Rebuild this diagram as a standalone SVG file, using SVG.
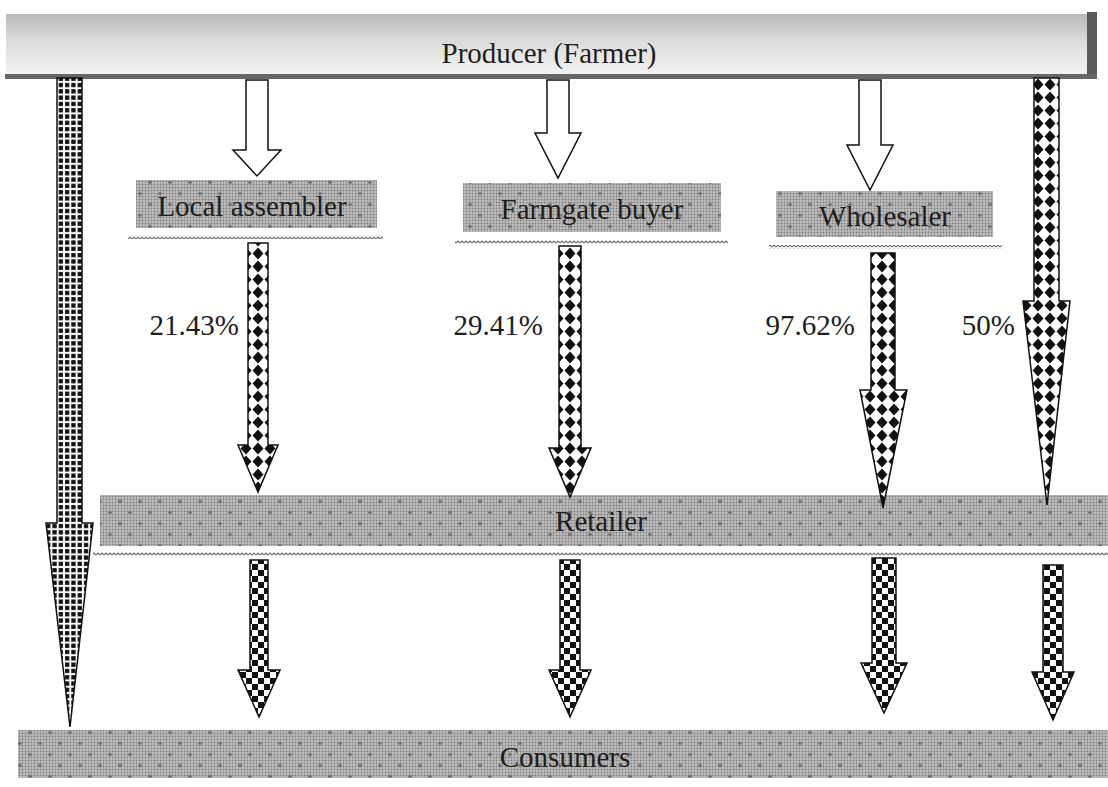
<svg xmlns="http://www.w3.org/2000/svg" width="1108" height="787" viewBox="0 0 1108 787">
<defs>
  <linearGradient id="prodGrad" x1="0" y1="0" x2="0" y2="1">
    <stop offset="0" stop-color="#b8b8b8"/>
    <stop offset="0.45" stop-color="#dcdcdc"/>
    <stop offset="1" stop-color="#f4f4f4"/>
  </linearGradient>
  <pattern id="ht" patternUnits="userSpaceOnUse" width="3" height="3">
    <rect width="3" height="3" fill="#bdbdbd"/>
    <circle cx="1.5" cy="1.5" r="0.95" fill="#808080"/>
  </pattern>
  <pattern id="plus" patternUnits="userSpaceOnUse" width="20" height="22">
    <path d="M10,4.5 v4 M8,6.5 h4" stroke="#6e6e6e" stroke-width="1.3"/>
    <path d="M0,15.5 v4 M-2,17.5 h4 M20,15.5 v4 M18,17.5 h4" stroke="#6e6e6e" stroke-width="1.3"/>
  </pattern>
  <pattern id="zig" patternUnits="userSpaceOnUse" width="4" height="4">
    <polyline points="0,3 2,1 4,3" fill="none" stroke="#6f6f6f" stroke-width="1.2"/>
  </pattern>
  <pattern id="grid" patternUnits="userSpaceOnUse" width="6.3" height="6.3" x="1" y="0">
    <rect width="6.3" height="6.3" fill="#ffffff"/>
    <rect x="1" y="1" width="4.3" height="4.3" fill="#111"/>
  </pattern>
  <pattern id="diam" patternUnits="userSpaceOnUse" width="12" height="13">
    <rect width="12" height="13" fill="#ffffff"/>
    <polygon points="6,0.5 11.5,6.5 6,12.5 0.5,6.5" fill="#111"/>
  </pattern>
  <pattern id="chk" patternUnits="userSpaceOnUse" width="12" height="12">
    <rect width="12" height="12" fill="#ffffff"/>
    <rect x="0" y="0" width="6" height="6" fill="#111"/>
    <rect x="6" y="6" width="6" height="6" fill="#111"/>
  </pattern>
  <style>
    .lbl { font-family: "Liberation Serif", "Times New Roman", serif; font-size: 29px; fill: #1e1e1e; text-anchor: middle; }
    .pct { font-family: "Liberation Serif", "Times New Roman", serif; font-size: 29px; fill: #1e1e1e; text-anchor: end; }
    .wavy { fill: url(#zig); }
    .arrow { stroke: #111; stroke-width: 1.5; stroke-linejoin: miter; }
    .hollow { fill: #ffffff; stroke: #111; stroke-width: 1.5; }
  </style>
</defs>
<rect width="1108" height="787" fill="#ffffff"/>

<g id="producer">
  <rect x="6" y="14" width="1084" height="62" fill="url(#prodGrad)"/>
  <rect x="1087" y="12" width="10" height="67" fill="#5a5a5a"/>
  <rect x="5" y="74" width="1092" height="5" fill="#666"/>
  <text class="lbl" x="549" y="63">Producer (Farmer)</text>
</g>

<g id="local-assembler">
  <rect x="136" y="180" width="241" height="48" fill="url(#ht)"/>
  <rect x="136" y="180" width="241" height="48" fill="url(#plus)"/>
  <rect class="wavy" x="128" y="235" width="255" height="4"/>
  <text class="lbl" x="252" y="216">Local assembler</text>
</g>

<g id="farmgate-buyer">
  <rect x="463" y="183" width="258" height="49" fill="url(#ht)"/>
  <rect x="463" y="183" width="258" height="49" fill="url(#plus)"/>
  <rect class="wavy" x="455" y="240" width="273" height="4"/>
  <text class="lbl" x="592" y="219">Farmgate buyer</text>
</g>

<g id="wholesaler">
  <rect x="776" y="191" width="217" height="46" fill="url(#ht)"/>
  <rect x="776" y="191" width="217" height="46" fill="url(#plus)"/>
  <rect class="wavy" x="769" y="245" width="233" height="4"/>
  <text class="lbl" x="885" y="226">Wholesaler</text>
</g>

<g id="retailer">
  <rect x="100" y="495" width="1008" height="51" fill="url(#ht)"/>
  <rect x="100" y="495" width="1008" height="51" fill="url(#plus)"/>
  <rect class="wavy" x="93" y="552" width="1015" height="4"/>
  <text class="lbl" x="601" y="531">Retailer</text>
</g>

<g id="consumers">
  <rect x="18" y="730" width="1090" height="48" fill="url(#ht)"/>
  <rect x="18" y="730" width="1090" height="48" fill="url(#plus)"/>
  <text class="lbl" x="565" y="767">Consumers</text>
</g>

<g id="connectors">
  <path class="arrow" fill="url(#grid)" d="M57,78 L57,523 L46,523 L70,727 L93,523 L82,523 L82,78 Z"/>
  <path class="arrow" fill="url(#diam)" d="M1034,78 L1034,301 L1023,301 L1047,505 L1070,301 L1059,301 L1059,78 Z"/>
  <path class="hollow" d="M246,80 L246,150 L233,150 L257,176 L281,150 L268,150 L268,80 Z"/>
  <path class="hollow" d="M547,80 L547,133 L535,133 L558,178 L581,133 L569,133 L569,80 Z"/>
  <path class="hollow" d="M859,80 L859,145 L847,145 L870,190 L893,145 L881,145 L881,80 Z"/>
  <path class="arrow" fill="url(#diam)" d="M248,243 L248,445 L238,445 L258,492 L278,445 L268,445 L268,243 Z"/>
  <path class="arrow" fill="url(#diam)" d="M559,246 L559,448 L549,448 L570,497 L591,448 L581,448 L581,246 Z"/>
  <path class="arrow" fill="url(#diam)" d="M871,253 L871,390 L860,390 L883,508 L907,390 L895,390 L895,253 Z"/>
  <path class="arrow" fill="url(#chk)" d="M250,560 L250,670 L238,670 L259,717 L280,670 L268,670 L268,560 Z"/>
  <path class="arrow" fill="url(#chk)" d="M560,560 L560,670 L549,670 L570,717 L591,670 L580,670 L580,560 Z"/>
  <path class="arrow" fill="url(#chk)" d="M872,558 L872,663 L861,663 L884,713 L907,663 L896,663 L896,558 Z"/>
  <path class="arrow" fill="url(#chk)" d="M1043,565 L1043,672 L1032,672 L1053,720 L1074,672 L1063,672 L1063,565 Z"/>
</g>

<g id="labels">
  <text class="pct" x="239" y="335">21.43%</text>
  <text class="pct" x="543" y="335">29.41%</text>
  <text class="pct" x="855" y="335">97.62%</text>
  <text class="pct" x="1015" y="335">50%</text>
</g>
</svg>
